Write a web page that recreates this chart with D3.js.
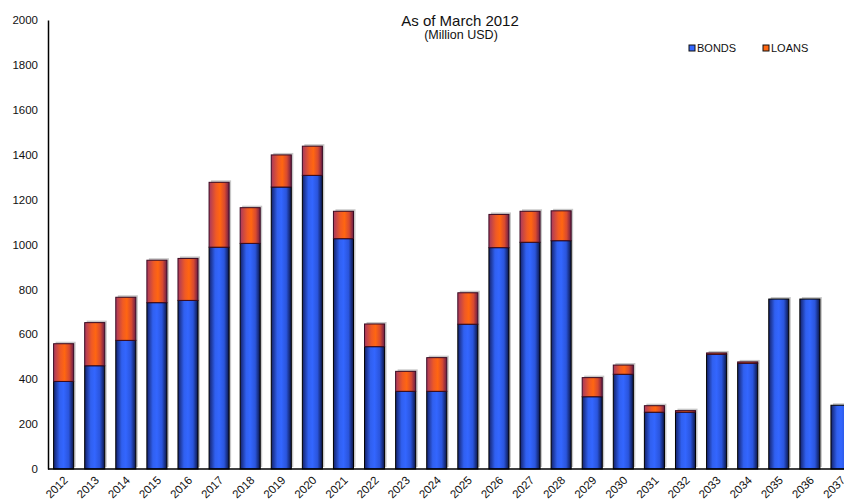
<!DOCTYPE html>
<html>
<head>
<meta charset="utf-8">
<script src="https://cdn.jsdelivr.net/npm/d3@7"></script>
<style>
  body { margin: 0; background: #fff; }
  text { font-family: "Liberation Sans", Arial, sans-serif; fill: #111; }
</style>
</head>
<body>
<div id="chart"></div>
<script>
var years = ["2012","2013","2014","2015","2016","2017","2018","2019","2020","2021","2022","2023","2024",
             "2025","2026","2027","2028","2029","2030","2031","2032","2033","2034","2035","2036","2037"];
var bonds = [390, 460, 573, 741, 751, 988, 1005, 1256, 1308, 1026, 545, 346, 346,
             645, 986, 1010, 1017, 322, 422, 253, 253, 511, 471, 757, 757, 284];
var loans = [168, 192, 192, 189, 187, 289, 159, 143, 130, 122, 101, 89, 150,
             140, 148, 138, 133, 85, 41, 29, 7, 6, 6, 0, 0, 0];
var seriesNames = ["BONDS", "LOANS"];
var yTicks = [0, 200, 400, 600, 800, 1000, 1200, 1400, 1600, 1800, 2000];

var W = 844, H = 500;
var plotLeft = 48, plotTop = 20, plotBottom = 469;
var step = 31.1;

var svg = d3.select("#chart").append("svg")
    .attr("width", W)
    .attr("height", H);

// gradients
var defs = svg.append("defs");
function grad(id, stops) {
  var g = defs.append("linearGradient").attr("id", id)
      .attr("x1", "0%").attr("x2", "100%").attr("y1", "0%").attr("y2", "0%");
  stops.forEach(function(s) {
    g.append("stop").attr("offset", s[0]).attr("stop-color", s[1]);
  });
}
grad("gBonds", [["0%", "#14226a"], ["30%", "#3060f0"], ["50%", "#3366ff"], ["75%", "#2a55dd"], ["100%", "#0b1545"]]);
grad("gLoans", [["0%", "#a8385e"], ["35%", "#f05a25"], ["55%", "#ff6611"], ["78%", "#d84a30"], ["100%", "#6a1d48"]]);

var x = d3.scaleBand()
    .domain(years)
    .range([plotLeft, plotLeft + step * years.length])
    .paddingInner(0.355)
    .paddingOuter(0.18);

var y = d3.scaleLinear()
    .domain([0, 2000])
    .range([plotBottom, plotTop]);

var table = years.map(function(yr, i) {
  return { year: yr, BONDS: bonds[i], LOANS: loans[i] };
});
var stacked = d3.stack().keys(seriesNames)(table);

// shadows
svg.append("g").selectAll("rect")
  .data(table)
  .enter().append("rect")
    .attr("x", function(d) { return x(d.year) + 2; })
    .attr("y", function(d) { return y(d.BONDS + d.LOANS) - 2; })
    .attr("width", x.bandwidth())
    .attr("height", function(d) { return plotBottom - y(d.BONDS + d.LOANS); })
    .attr("fill", "#c8c8c8");

var fills = { BONDS: "url(#gBonds)", LOANS: "url(#gLoans)" };
var strokes = { BONDS: "#000", LOANS: "#3a0a20" };

svg.append("g").selectAll("g")
  .data(stacked)
  .enter().append("g")
    .attr("fill", function(s) { return fills[s.key]; })
    .attr("stroke", function(s) { return strokes[s.key]; })
  .selectAll("rect")
  .data(function(s) { return s.filter(function(d) { return d[1] > d[0]; }); })
  .enter().append("rect")
    .attr("x", function(d) { return x(d.data.year); })
    .attr("y", function(d) { return y(d[1]); })
    .attr("width", x.bandwidth())
    .attr("height", function(d) { return y(d[0]) - y(d[1]); })
    .attr("stroke-width", 1);

// y axis
var yAxis = svg.append("g")
    .attr("transform", "translate(" + plotLeft + ",0)")
    .call(d3.axisLeft(y).tickValues(yTicks).tickSize(0).tickPadding(10).tickFormat(d3.format("d")));
yAxis.select(".domain").attr("stroke", "#000").attr("stroke-width", 1.5);
yAxis.selectAll("text").style("font-size", "11.5px").attr("fill", "#111");

// x axis
var xAxis = svg.append("g")
    .attr("transform", "translate(0," + plotBottom + ")")
    .call(d3.axisBottom(x).tickSize(0).tickPadding(0));
xAxis.select(".domain").attr("stroke", "#000").attr("stroke-width", 1.5)
    .attr("d", "M" + plotLeft + ",0H" + W);
xAxis.selectAll("text")
    .style("font-size", "11.5px")
    .attr("fill", "#111")
    .attr("text-anchor", "end")
    .attr("dy", "0")
    .attr("transform", "translate(5,12) rotate(-45)");

// title
svg.append("text")
    .attr("x", 460).attr("y", 26)
    .attr("text-anchor", "middle")
    .style("font-size", "15px")
    .text("As of March 2012");
svg.append("text")
    .attr("x", 461).attr("y", 39)
    .attr("text-anchor", "middle")
    .style("font-size", "12.5px")
    .text("(Million USD)");

// legend
var legendX = [689, 763];
var legend = svg.append("g").selectAll("g")
  .data(seriesNames)
  .enter().append("g")
    .attr("transform", function(d, i) { return "translate(" + legendX[i] + ",45)"; });
legend.append("rect")
    .attr("width", 6).attr("height", 6)
    .attr("fill", function(d) { return d == "BONDS" ? "#3366ff" : "#ff6611"; })
    .attr("stroke", "#111");
legend.append("text")
    .attr("x", 8).attr("y", 7)
    .style("font-size", "11px")
    .text(function(d) { return d; });
</script>
</body>
</html>
